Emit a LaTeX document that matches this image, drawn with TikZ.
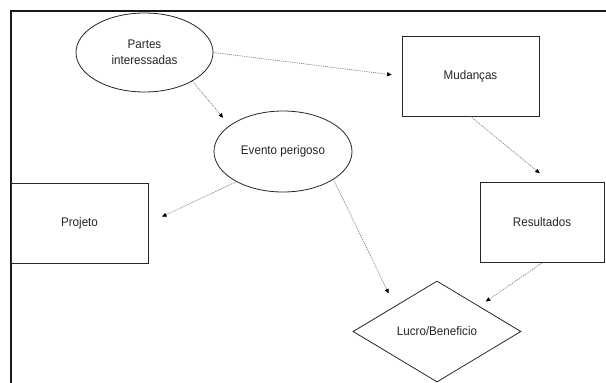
\documentclass[tikz,border=0pt]{standalone}
\usepackage{fontspec}
\setmainfont{Liberation Sans}[FakeStretch=0.93]
\usetikzlibrary{shapes.geometric,arrows.meta}

\begin{document}
\begin{tikzpicture}[x=1pt,y=-1pt,
  every node/.style={font=\fontsize{12.5}{16}\selectfont, text=black!85, inner sep=0pt},
  oval/.style={ellipse, draw=black!85, line width=0.8pt},
  box/.style={rectangle, draw=black!85, line width=0.8pt},
  rhombus/.style={diamond, draw=black!85, line width=0.8pt},
  link/.style={draw=black!55, line width=0.6pt, dash pattern=on 1.2pt off 1pt,
    -{Triangle[length=4.5pt,width=4pt,color=black]}},
]
\useasboundingbox (0,0) rectangle (606,383);
\fill[white] (0,0) rectangle (606,383);
% frame (top and left sides)
\draw[line width=1.8pt, black!90] (11,383) -- (11,11) -- (606,11);

\node[oval, minimum width=137pt, minimum height=79pt, align=center] (partes) at (144.5,52.5) {Partes\\interessadas};
\node[oval, minimum width=138pt, minimum height=81pt] (evento) at (283,151.5) {Evento perigoso};
\node[box, minimum width=137pt, minimum height=80pt] (mud) at (470.5,76) {Mudanças};
\node[box, minimum width=137pt, minimum height=80pt] (proj) at (79.5,223) {Projeto};
\node[box, minimum width=124pt, minimum height=80pt] (res) at (542,222.5) {Resultados};
\node[rhombus, minimum width=168pt, minimum height=101pt] (lucro) at (437,331.5) {Lucro/Beneficio};

\draw[link, shorten >=10pt] (partes.east) -- (mud.west);
\draw[link, shorten >=10pt] (partes.-31) -- (evento.154);
\draw[link, shorten >=15pt] (evento.213) -- (proj.east);
\draw[link, shorten >=14pt] (evento.-29) -- (lucro.north west);
\draw[link, shorten >=14pt] (mud.south) -- (res.78);
\draw[link, shorten >=8pt] (res.south) -- (lucro.north east);
\end{tikzpicture}
\end{document}
